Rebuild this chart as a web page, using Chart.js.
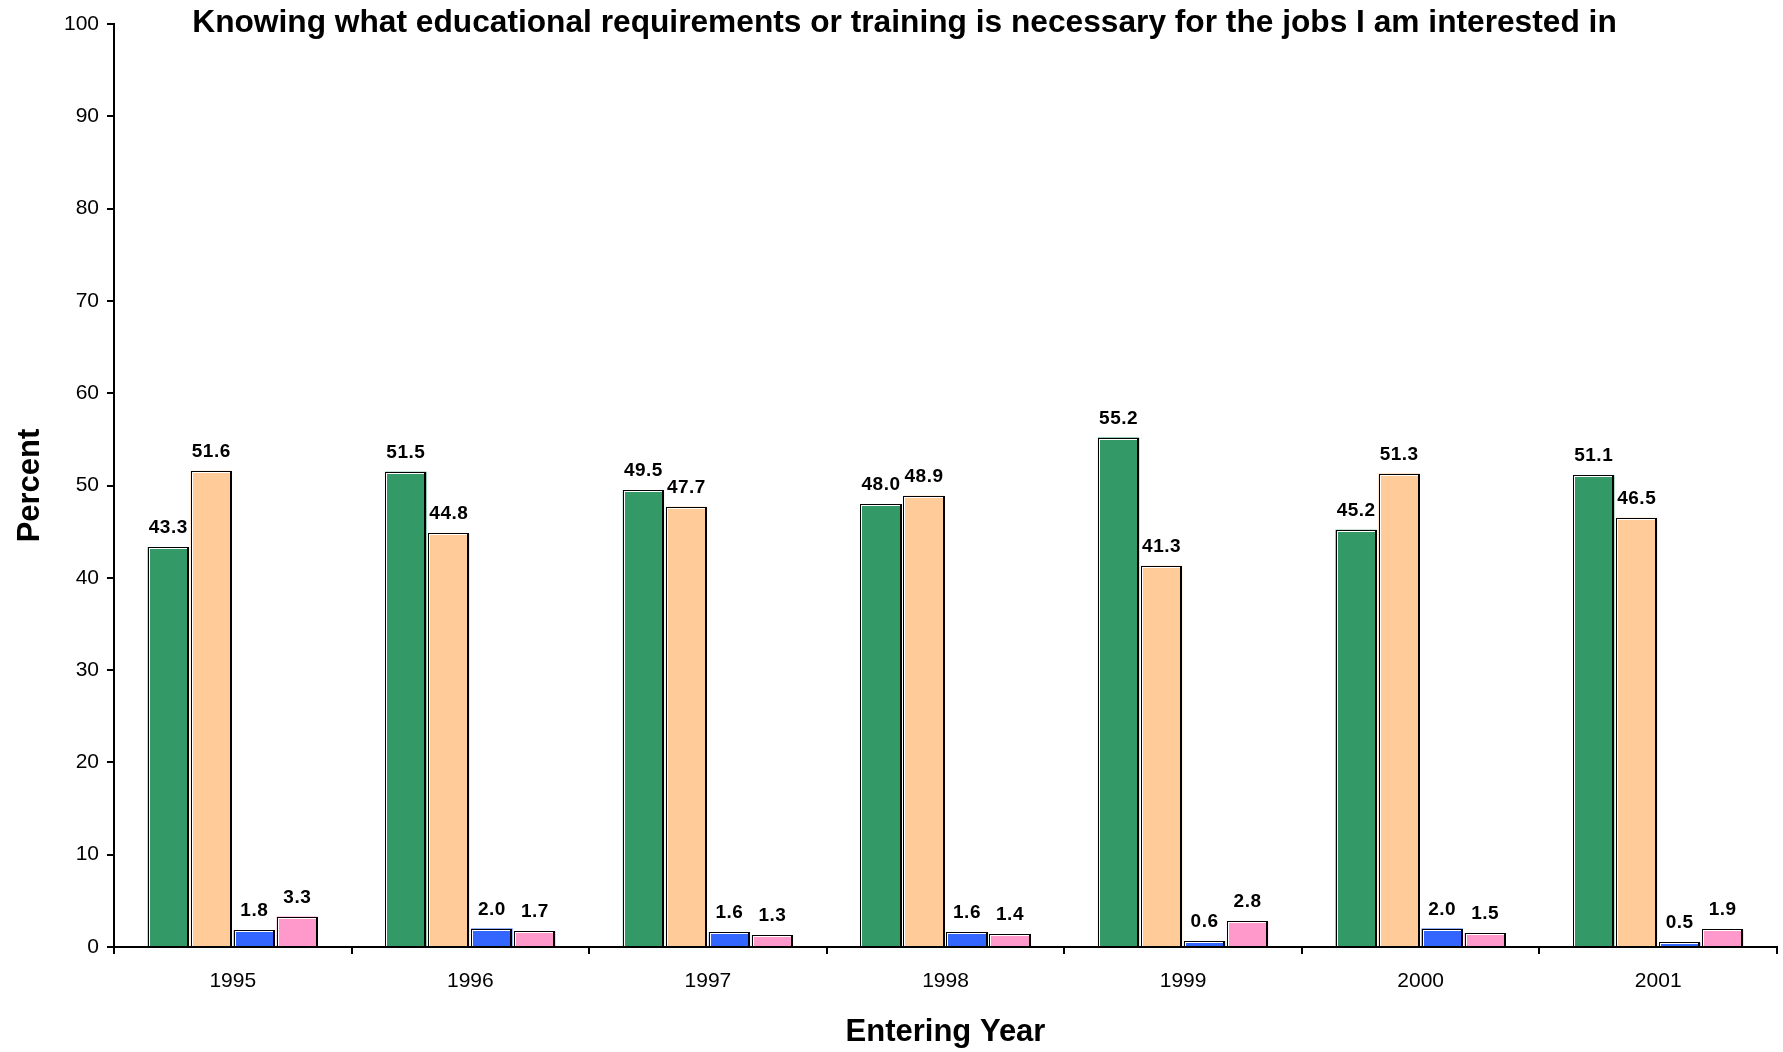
<!DOCTYPE html>
<html>
<head>
<meta charset="utf-8">
<script src="https://cdn.jsdelivr.net/npm/chart.js@4"></script>
<style>
  html, body { margin: 0; padding: 0; background: #fff; }
  #wrap { width: 1783px; height: 1052px; position: relative; }
</style>
</head>
<body>
<div id="wrap"><canvas id="c" width="1783" height="1052"></canvas></div>
<script>
const categories = ['1995', '1996', '1997', '1998', '1999', '2000', '2001'];
const series1 = [43.3, 51.5, 49.5, 48.0, 55.2, 45.2, 51.1];
const series2 = [51.6, 44.8, 47.7, 48.9, 41.3, 51.3, 46.5];
const series3 = [1.8, 2.0, 1.6, 1.6, 0.6, 2.0, 0.5];
const series4 = [3.3, 1.7, 1.3, 1.4, 2.8, 1.5, 1.9];
const seriesNames = ['Series 1', 'Series 2', 'Series 3', 'Series 4'];
const yTicks = [0, 10, 20, 30, 40, 50, 60, 70, 80, 90, 100];
const titleText = 'Knowing what educational requirements or training is necessary for the jobs I am interested in';
const xTitle = 'Entering Year';
const yTitle = 'Percent';

const FONT = 'Arial, "Liberation Sans", sans-serif';
const colors = ['#339966', '#FFCC99', '#3366FF', '#FF99CC'];

const titlePlugin = {
  id: 'topTitle',
  afterDraw(chart) {
    const ctx = chart.ctx;
    ctx.save();
    ctx.font = 'bold 31.7px ' + FONT;
    ctx.fillStyle = '#000';
    ctx.textAlign = 'center';
    ctx.textBaseline = 'alphabetic';
    ctx.fillText(titleText, chart.width / 2 + 13, 32);
    ctx.restore();
  }
};

const barStylePlugin = {
  id: 'barStyle',
  afterDatasetsDraw(chart) {
    const ctx = chart.ctx;
    ctx.save();
    chart.data.datasets.forEach((ds, i) => {
      const meta = chart.getDatasetMeta(i);
      meta.data.forEach((bar, j) => {
        const p = bar.getProps(['x', 'y', 'base', 'width'], true);
        const L = Math.round(p.x - p.width / 2), R = Math.round(p.x + p.width / 2);
        const T = Math.round(p.y), B = Math.round(p.base);
        const h = B - T;
        // black outline (left, top, thicker right)
        ctx.fillStyle = '#000';
        ctx.fillRect(L, T, 1, h);
        ctx.fillRect(L, T, R - L, 1);
        ctx.fillRect(R - 2, T, 2, h);
        // white inner highlight (left, top)
        if (h > 2) {
          ctx.fillStyle = '#fff';
          ctx.fillRect(L + 1, T + 1, 1, h - 1);
          ctx.fillRect(L + 1, T + 1, R - L - 3, 1);
        }
        // value label
        ctx.fillStyle = '#000';
        ctx.font = 'bold 19px ' + FONT;
        ctx.textAlign = 'center';
        ctx.textBaseline = 'alphabetic';
        if ('letterSpacing' in ctx) ctx.letterSpacing = '0.5px';
        ctx.fillText(ds.data[j].toFixed(1), p.x, T - 14);
        if ('letterSpacing' in ctx) ctx.letterSpacing = '0px';
      });
    });
    ctx.restore();
  }
};

const allSeries = [series1, series2, series3, series4];

new Chart(document.getElementById('c'), {
  type: 'bar',
  data: {
    labels: categories,
    datasets: allSeries.map((s, i) => ({
      label: seriesNames[i],
      data: s,
      backgroundColor: colors[i],
      borderWidth: 0,
      categoryPercentage: 0.724,
      barPercentage: 0.96
    }))
  },
  options: {
    responsive: false,
    animation: false,
    devicePixelRatio: 1,
    layout: { padding: { top: 24, right: 6, left: 0, bottom: 0 } },
    plugins: {
      legend: { display: false },
      title: { display: false },
      tooltip: { enabled: false }
    },
    scales: {
      x: {
        z: 1,
        afterFit(scale) { scale.height = 105; },
        grid: { display: true, drawOnChartArea: false, drawTicks: true, tickLength: 7, color: '#000', lineWidth: 2, offset: true },
        border: { display: true, color: '#000', width: 2 },
        ticks: { color: '#000', font: { family: FONT, size: 21 }, padding: 15, maxRotation: 0 },
        title: { display: true, text: xTitle, color: '#000', font: { family: FONT, size: 31, weight: 'bold' }, padding: { top: 0, bottom: 1 } }
      },
      y: {
        z: 1,
        min: 0, max: 100,
        afterFit(scale) { scale.width = 114; },
        afterBuildTicks(scale) { scale.ticks = yTicks.map(v => ({ value: v })); },
        grid: { display: true, drawOnChartArea: false, drawTicks: true, tickLength: 7, color: '#000', lineWidth: 2 },
        border: { display: true, color: '#000', width: 2 },
        ticks: { color: '#000', font: { family: FONT, size: 21 }, padding: 8 },
        title: { display: true, text: yTitle, color: '#000', font: { family: FONT, size: 31, weight: 'bold' }, padding: { top: 11.5, bottom: 0 } }
      }
    }
  },
  plugins: [titlePlugin, barStylePlugin]
});
</script>
</body>
</html>
